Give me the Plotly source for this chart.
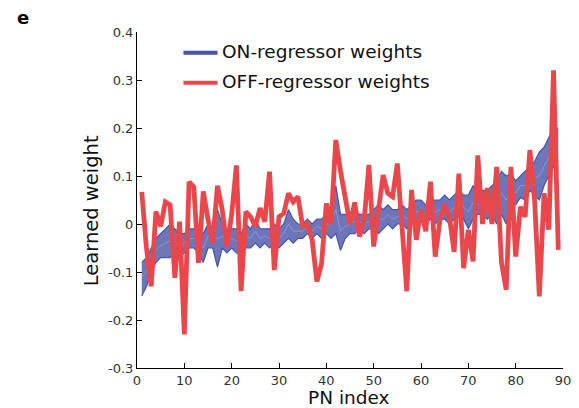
import plotly.graph_objects as go

# PN index 1..89
pn_index = list(range(1, 90))

# OFF-regressor weights (red bundle)
off_weights = [0.067, -0.05, -0.13, 0.026, -0.005, 0.046, 0.04, -0.112, 0.005, -0.23,
               0.088, 0.077, -0.081, 0.068, 0.01, -0.04, 0.08, 0.03, -0.047, 0.02,
               0.122, -0.14, 0.026, 0.015, -0.005, 0.033, 0.005, 0.109, -0.096, 0.015,
               0.022, 0.064, 0.046, 0.057, -0.005, 0.0, -0.033, -0.12, -0.082, 0.043,
               0.0, 0.175, 0.11, 0.057, 0.0, 0.045, -0.026, 0.008, 0.123, -0.047,
               0.029, 0.102, 0.064, 0.057, 0.126, -0.005, -0.14, 0.071, -0.033, 0.03,
               -0.015, 0.088, -0.068, 0.008, 0.04, 0.015, -0.058, 0.105, -0.092, -0.012,
               -0.078, 0.143, 0.0, 0.075, 0.0, 0.119, -0.08, -0.137, 0.119, -0.068,
               0.036, 0.015, 0.154, 0.05, -0.151, 0.064, -0.012, 0.32, -0.054]

# ON-regressor weights (blue bundle): lower edge, middle, upper edge
on_lo = [-0.15, -0.13, -0.10, -0.08, -0.07, -0.07, -0.07, -0.06, -0.07, -0.06,
         -0.05, -0.05, -0.06, -0.08, -0.05, -0.05, -0.09, -0.05, -0.06, -0.05,
         -0.06, -0.06, -0.05, -0.05, -0.04, -0.05, -0.04, -0.05, -0.04, -0.05,
         -0.04, -0.03, -0.04, -0.03, -0.03, -0.02, -0.03, -0.02, -0.03, -0.02,
         -0.03, -0.02, -0.055, -0.03, -0.02, -0.02, -0.01, -0.02, -0.01, -0.01,
         -0.02, -0.01, 0.0, -0.01, 0.0, 0.0, -0.01, 0.0, 0.0, 0.01,
         0.0, 0.01, 0.0, 0.01, 0.01, 0.0, 0.01, 0.02, 0.01, -0.01,
         0.01, 0.02, 0.02, 0.01, 0.02, 0.0, 0.02, 0.0, 0.035, 0.04,
         0.055, 0.05, 0.07, 0.06, 0.05, 0.08, 0.10, 0.12, 0.11]
on_mid = [-0.11, -0.10, -0.075, -0.055, -0.045, -0.04, -0.035, -0.035, -0.045, -0.04,
          -0.03, -0.03, -0.04, -0.05, -0.025, -0.03, -0.03, -0.025, -0.04, -0.03,
          -0.035, -0.04, -0.025, -0.03, -0.015, -0.03, -0.025, -0.03, -0.02, -0.03,
          -0.02, 0.0, -0.015, -0.015, -0.015, -0.005, -0.015, -0.005, -0.01, 0.0,
          0.0, 0.03, -0.015, -0.005, 0.0, 0.005, 0.005, 0.0, 0.005, 0.01,
          0.01, 0.01, 0.02, 0.01, 0.015, 0.02, 0.01, 0.02, 0.025, 0.03,
          0.02, 0.03, 0.025, 0.03, 0.035, 0.025, 0.035, 0.045, 0.035, 0.025,
          0.045, 0.04, 0.045, 0.04, 0.05, 0.045, 0.065, 0.05, 0.07, 0.065,
          0.08, 0.08, 0.095, 0.095, 0.10, 0.12, 0.14, 0.16, 0.155]
on_hi = [-0.08, -0.07, -0.05, -0.03, -0.02, -0.01, 0.0, -0.01, -0.02, -0.02,
         -0.01, -0.01, -0.02, -0.02, 0.0, -0.01, 0.03, 0.0, -0.02, -0.01,
         -0.01, -0.02, 0.0, -0.01, 0.01, -0.01, -0.01, -0.01, 0.0, -0.01,
         0.0, 0.03, 0.01, 0.0, 0.0, 0.01, 0.0, 0.01, 0.01, 0.02,
         0.03, 0.08, 0.02, 0.02, 0.02, 0.03, 0.02, 0.02, 0.02, 0.03,
         0.04, 0.03, 0.04, 0.03, 0.03, 0.04, 0.03, 0.04, 0.05, 0.05,
         0.04, 0.05, 0.05, 0.05, 0.06, 0.05, 0.06, 0.07, 0.06, 0.06,
         0.08, 0.06, 0.07, 0.07, 0.08, 0.09, 0.11, 0.10, 0.105, 0.09,
         0.10, 0.11, 0.12, 0.13, 0.15, 0.16, 0.18, 0.20, 0.20]

x_ticks = [0, 10, 20, 30, 40, 50, 60, 70, 80, 90]
y_ticks = [-0.3, -0.2, -0.1, 0, 0.1, 0.2, 0.3, 0.4]
y_tick_text = ["-0.3", "-0.2", "-0.1", "0", "0.1", "0.2", "0.3", "0.4"]

BLUE = "rgb(72,84,168)"
RED = "rgb(232,72,76)"
FONT = "DejaVu Sans, Arial, sans-serif"

fig = go.Figure()

# blue bundle: filled band between edges plus a strand in the middle
fig.add_trace(go.Scatter(x=pn_index, y=on_lo, mode="lines",
                         line=dict(color=BLUE, width=1.2), showlegend=False))
fig.add_trace(go.Scatter(x=pn_index, y=on_hi, mode="lines", fill="tonexty",
                         fillcolor="rgba(72,84,168,0.8)",
                         line=dict(color=BLUE, width=1.2), showlegend=False))
fig.add_trace(go.Scatter(x=pn_index, y=on_mid, mode="lines",
                         line=dict(color="rgba(160,168,215,0.9)", width=0.7), showlegend=False))

# red bundle on top
fig.add_trace(go.Scatter(x=pn_index, y=off_weights, mode="lines",
                         line=dict(color=RED, width=4.8), showlegend=False))

# legend drawn by hand
for yy, col, txt in [(0.938, BLUE, "ON-regressor weights"), (0.849, RED, "OFF-regressor weights")]:
    fig.add_shape(type="line", xref="paper", yref="paper", x0=0.109, x1=0.189, y0=yy, y1=yy,
                  line=dict(color=col, width=4))
    fig.add_annotation(xref="paper", yref="paper", x=0.196, y=yy, yshift=1, text=txt, showarrow=False,
                       xanchor="left", yanchor="middle", font=dict(size=18.5, color="#111", family=FONT))

# panel letter and axis titles
fig.add_annotation(xref="paper", yref="paper", x=-0.268, y=1.042, text="<b>e</b>", showarrow=False,
                   xanchor="center", yanchor="middle", font=dict(size=18, color="#000", family=FONT))
fig.add_annotation(xref="paper", yref="paper", x=-0.106, y=0.469, text="Learned weight", textangle=-90,
                   showarrow=False, xanchor="center", yanchor="middle",
                   font=dict(size=19.5, color="#111", family=FONT))
fig.add_annotation(xref="paper", yref="paper", x=0.498, y=-0.089, text="PN index",
                   showarrow=False, xanchor="center", yanchor="middle",
                   font=dict(size=18.5, color="#111", family=FONT))

fig.update_xaxes(range=[0, 90], tickvals=x_ticks, ticks="inside", ticklen=5, tickcolor="black",
                 showline=True, linecolor="black", linewidth=1, showgrid=False, zeroline=False,
                 automargin=False, tickfont=dict(size=13, color="#333", family=FONT))
fig.update_yaxes(range=[-0.3, 0.4], tickvals=y_ticks, ticktext=y_tick_text, ticks="inside", ticklen=5,
                 tickcolor="black", showline=True, linecolor="black", linewidth=1, showgrid=False,
                 zeroline=False, automargin=False, tickfont=dict(size=13, color="#333", family=FONT))

fig.update_layout(width=579, height=408, margin=dict(l=137, r=16, t=32, b=40),
                  plot_bgcolor="white", paper_bgcolor="white")

# drop the default 8px body margin so the figure fills the window
fig.write_html("out.html", config={"displayModeBar": False},
               post_script="document.body.style.margin='0';")
